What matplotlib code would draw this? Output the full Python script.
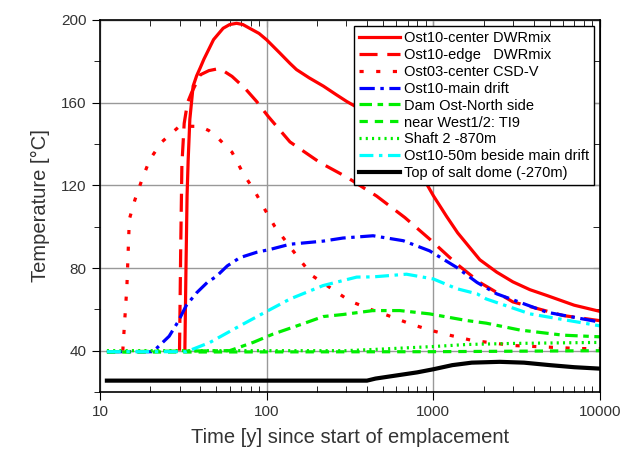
import numpy as np
import matplotlib
matplotlib.use("Agg")
import matplotlib.pyplot as plt
from matplotlib.ticker import FixedLocator, NullFormatter

plt.rcParams['font.family'] = ['Liberation Sans', 'DejaVu Sans']
plt.rcParams['lines.scale_dashes'] = False

# --- data ---
c10_x = [32.3, 32.8, 33.3, 33.8, 34.6, 36.2, 38, 40, 42, 45.7, 48, 54.8, 60, 66, 72, 79, 90, 100, 120, 138, 151, 180, 219, 260, 302, 400, 500, 600, 700, 850, 1000, 1200, 1400, 1900, 2400, 3000, 3800, 4800, 7000, 10000]
c10_y = [40, 80, 115, 132, 152, 168, 173, 177, 181, 187, 190.5, 196, 197.8, 198.4, 197.8, 196, 193.5, 190.4, 184, 179, 176, 172, 168, 164, 160.6, 155, 149, 142, 135, 125, 115, 105, 97, 84, 78, 73.3, 69.5, 66.7, 62, 59]

e10_x = [30, 30.5, 31, 32, 33.5, 35.5, 40, 45, 51, 56, 62, 74, 87, 102, 138, 209, 302, 457, 675, 950, 1380, 1900, 3000, 6000, 10000]
e10_y = [40, 90, 130, 150, 160, 165, 173.5, 175.5, 176.4, 175, 172.7, 167, 160.6, 153.4, 141, 131, 124, 114.8, 104.4, 94, 82, 73, 63.6, 57, 54.5]

c03_x = [13.7, 14.5, 15, 16.2, 17.9, 19.9, 23.5, 29.4, 33, 39.8, 45, 50, 62, 72, 85, 98, 112, 158, 190, 316, 420, 535, 725, 950, 1250, 1700, 3000, 7600, 10000]
c03_y = [40, 71, 103.6, 113, 123, 132.5, 141, 148, 148.6, 148.5, 146.5, 143.6, 136, 126, 117, 108, 100, 84, 76, 64, 60, 57, 53, 50, 47.5, 45, 42.5, 41, 41]

md_x = [11, 20.8, 26, 29.4, 33, 38, 44, 50, 58, 69, 87, 105, 138, 218, 287, 435, 660, 950, 1380, 1830, 2400, 4800, 10000]
md_y = [39.5, 39.5, 47, 54, 62, 68, 73, 76, 81, 85, 87.6, 89, 91.5, 93, 94.5, 95.6, 93.2, 88.3, 80.3, 73, 67.5, 58.6, 53.8]

dam_x = [11, 60, 83, 109, 165, 218, 287, 435, 630, 950, 1580, 2080, 3300, 6000, 10000]
dam_y = [39.5, 40, 44, 48, 53, 56.5, 57.5, 59.4, 59.4, 57.8, 54.6, 53.3, 50, 47.5, 46.7]

ti9_x = [11, 100, 1000, 10000]
ti9_y = [39.3, 39.4, 39.5, 40]

sh2_x = [11, 300, 500, 1000, 1600, 3000, 10000]
sh2_y = [40, 40, 40.8, 42, 43, 43.5, 44]

m50_x = [11, 33, 45.7, 69, 100, 138, 218, 347, 435, 690, 1000, 1380, 1830, 2080, 3800, 10000]
m50_y = [39.5, 39.5, 44, 52, 59, 65, 71.5, 75.6, 75.7, 77, 74.7, 70, 67.5, 65, 57.8, 52]

salt_x = [11, 400, 450, 600, 800, 1000, 1300, 1700, 2500, 3500, 5000, 7000, 10000]
salt_y = [25.5, 25.5, 26.5, 28, 29.5, 31, 33, 34.2, 34.6, 34.2, 33, 32, 31.3]

fig = plt.figure(figsize=(6.23, 4.53), dpi=100)
ax = fig.add_axes([100/623, 61/453, 500/623, 372/453])

lw = 2.3
ax.plot(c10_x, c10_y, color='red', lw=lw, label='Ost10-center DWRmix')
ax.plot(e10_x, e10_y, color='red', lw=lw, dashes=(13, 7), label='Ost10-edge   DWRmix')
ax.plot(c03_x, c03_y, color='red', lw=lw, dashes=(3, 9), label='Ost03-center CSD-V')
ax.plot(md_x, md_y, color='blue', lw=lw, dashes=(11, 4, 2.5, 4), label='Ost10-main drift')
ax.plot(dam_x, dam_y, color='#00ee00', lw=lw, dashes=(9, 4, 4, 4), label='Dam Ost-North side')
ax.plot(ti9_x, ti9_y, color='#00ee00', lw=lw, dashes=(6, 5), label='near West1/2: TI9')
ax.plot(sh2_x, sh2_y, color='#00ee00', lw=lw, dashes=(1.5, 3), label='Shaft 2 -870m')
ax.plot(m50_x, m50_y, color='cyan', lw=lw, dashes=(10, 4, 2.5, 4), label='Ost10-50m beside main drift')
ax.plot(salt_x, salt_y, color='black', lw=3, label='Top of salt dome (-270m)')

ax.set_xscale('log')
ax.set_xlim(10, 10000)
ax.set_ylim(20, 200)
ax.set_yticks([40, 80, 120, 160, 200])
ax.yaxis.set_minor_locator(FixedLocator([20, 60, 100, 140, 180]))
ax.xaxis.set_major_locator(FixedLocator([10, 100, 1000, 10000]))
ax.xaxis.set_major_formatter(matplotlib.ticker.FixedFormatter(['10', '100', '1000', '10000']))
ax.xaxis.set_minor_formatter(NullFormatter())
ax.grid(True, which='major', color='#999999', lw=1)
ax.set_axisbelow(True)

ax.tick_params(which='major', direction='out', length=6, labelsize=11, labelcolor='#333333')
ax.tick_params(which='minor', direction='in', length=4)
ax.tick_params(axis='y', which='minor', direction='out', length=4)
for s in ax.spines.values():
    s.set_linewidth(1.2)

# ticks inside on top and right
top = ax.secondary_xaxis('top')
top.xaxis.set_major_locator(FixedLocator([10, 100, 1000, 10000]))
top.tick_params(which='both', direction='in', labeltop=False, length=5)
top.tick_params(which='minor', length=4)
right = ax.secondary_yaxis('right')
right.set_yticks([40, 80, 120, 160, 200])
right.yaxis.set_minor_locator(FixedLocator([60, 100, 140, 180]))
right.tick_params(which='both', direction='in', labelright=False, length=5)

ax.set_xlabel('Time [y] since start of emplacement', fontsize=14.5, color='#333333', labelpad=6)
ax.set_ylabel('Temperature [°C]', fontsize=14.5, color='#333333', labelpad=8)

leg = ax.legend(loc='upper right', fontsize=10.5, handlelength=2.8, labelspacing=0.2,
                handletextpad=0.3, borderpad=0.35, borderaxespad=0.4, fancybox=False,
                framealpha=1, edgecolor='black')
leg.get_frame().set_linewidth(1.0)

fig.savefig('out.png', dpi=100)
